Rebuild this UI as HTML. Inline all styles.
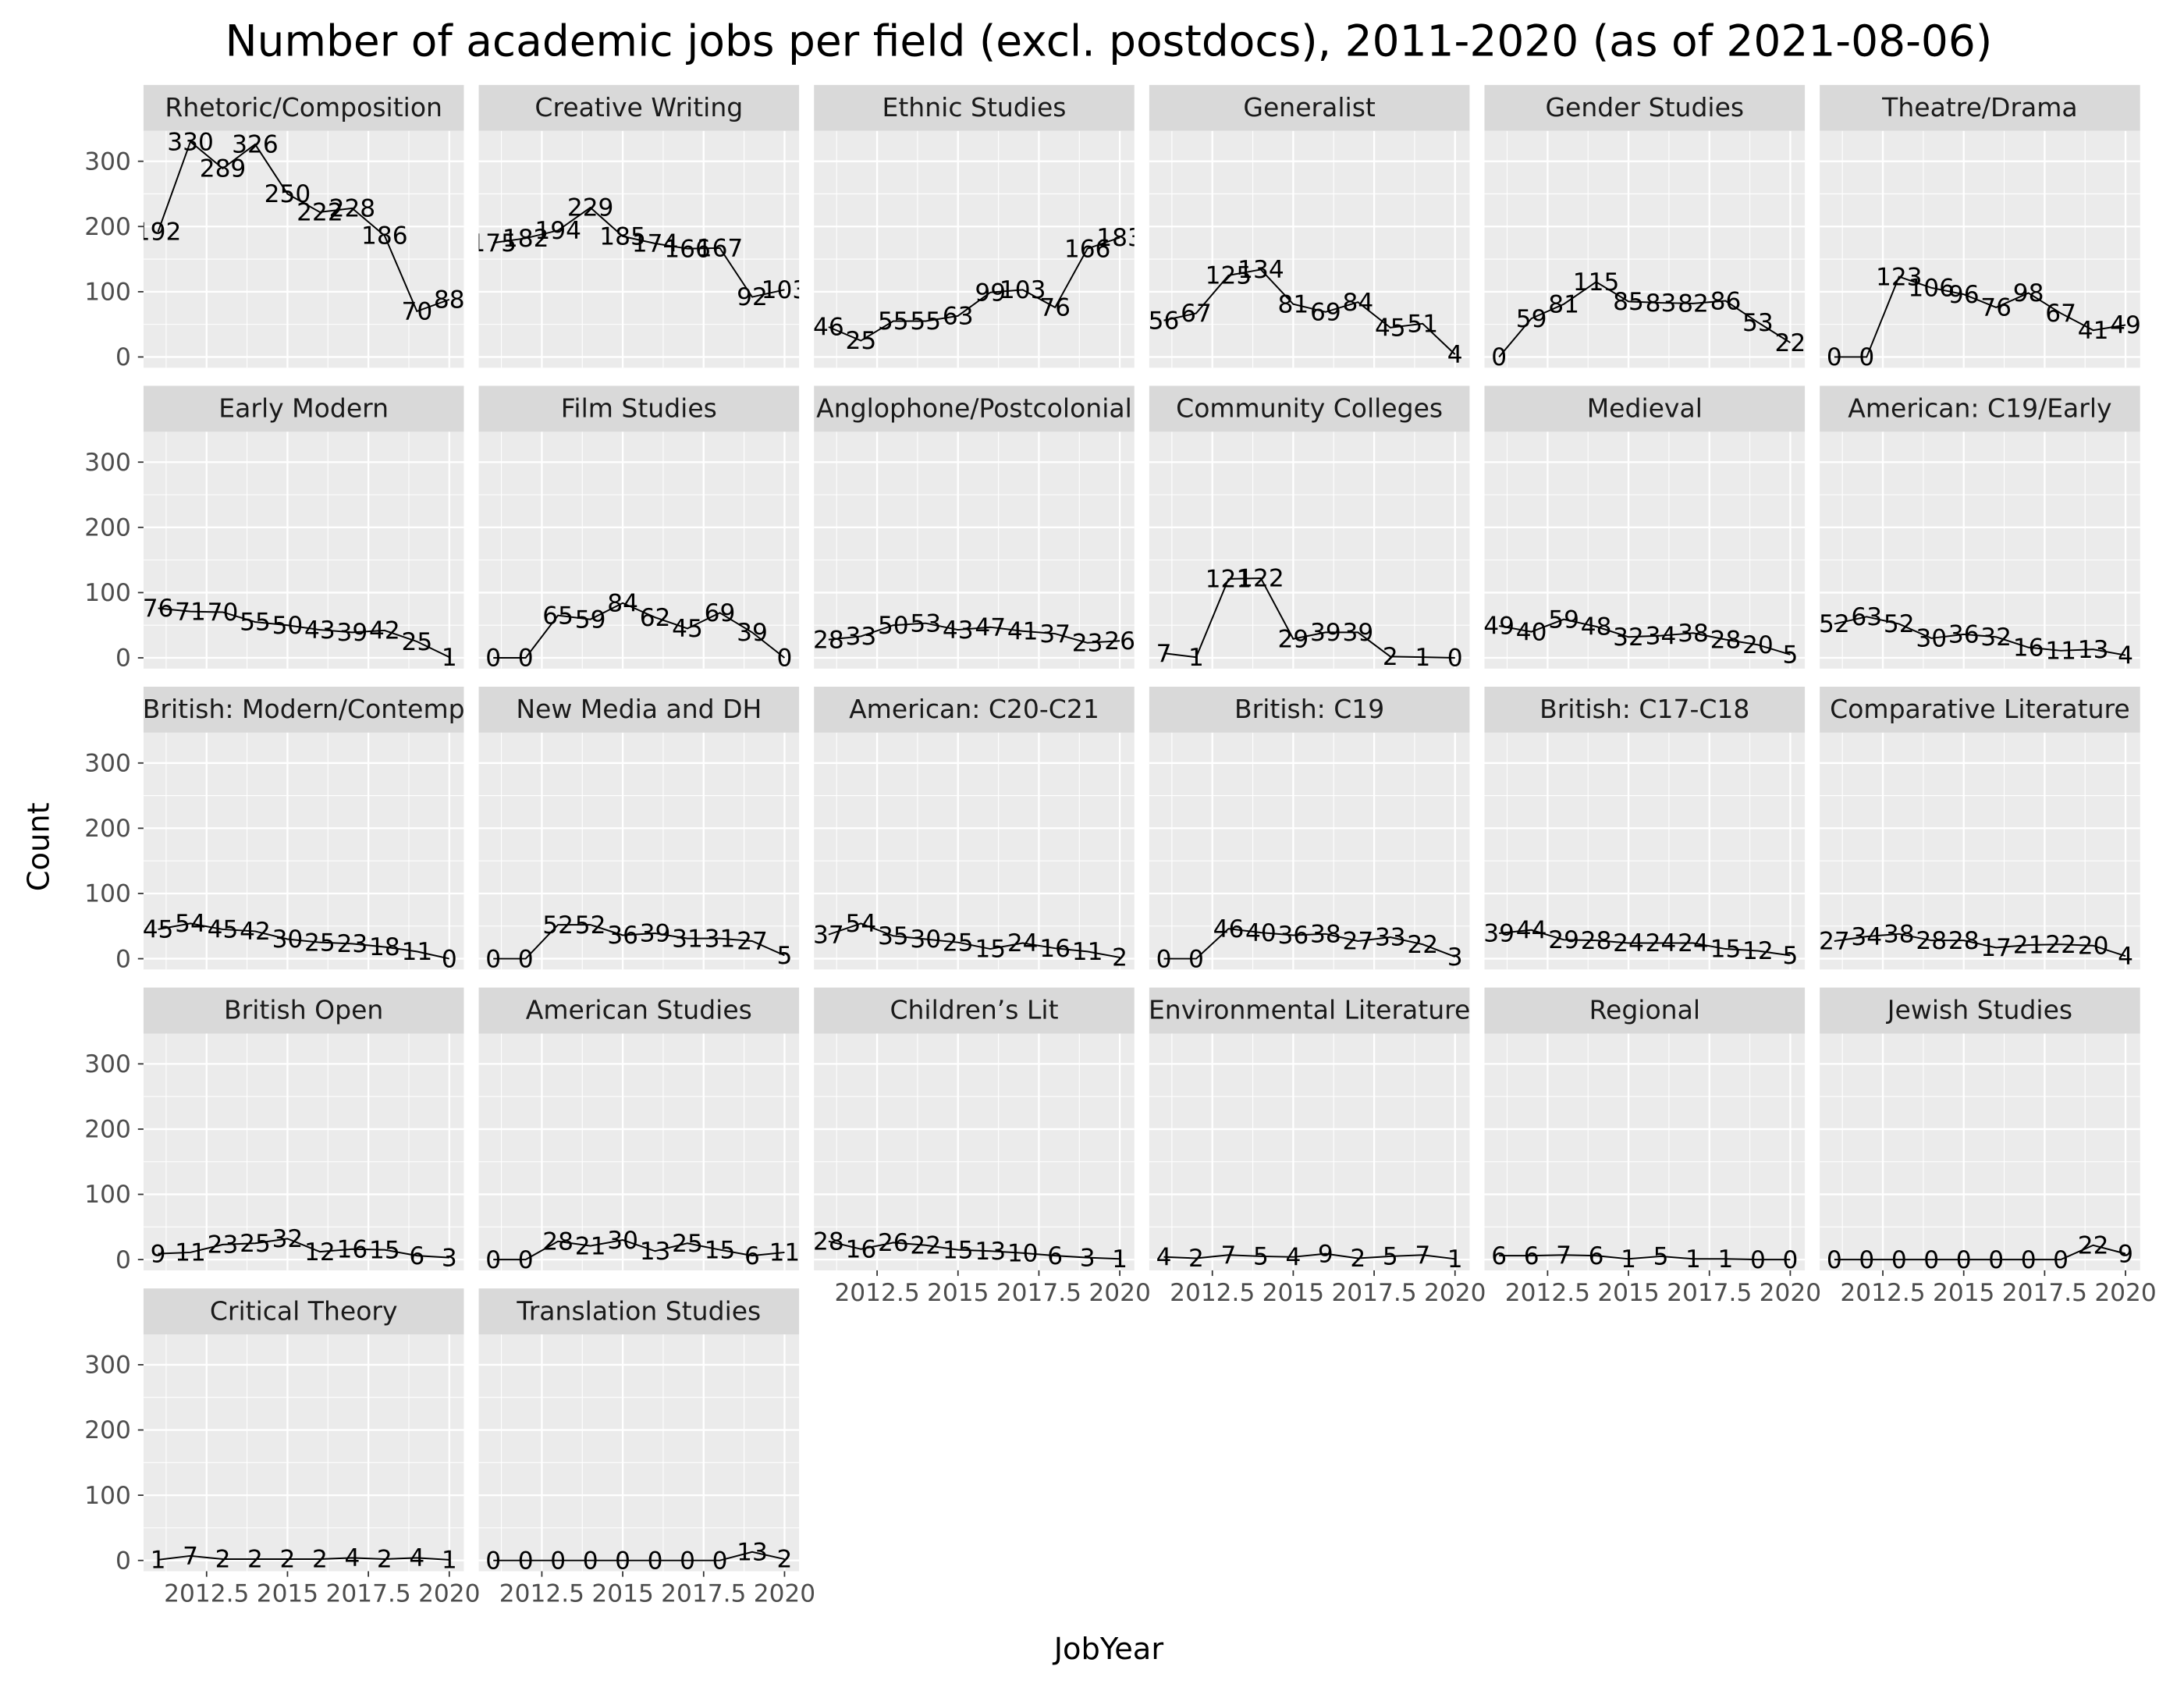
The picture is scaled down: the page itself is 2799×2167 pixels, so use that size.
<!DOCTYPE html>
<html><head><meta charset="utf-8"><style>
html,body{margin:0;padding:0;background:#fff;}
svg{display:block;font-family:"DejaVu Sans","Liberation Sans",sans-serif;}
</style></head><body>
<svg id="chart" width="2799" height="2167" viewBox="0 0 1568 1214" xmlns="http://www.w3.org/2000/svg">
<rect width="1568" height="1214" fill="#fff"/>
<text x="796" y="40" font-size="30.8" text-anchor="middle" fill="#000">Number of academic jobs per field (excl. postdocs), 2011-2020 (as of 2021-08-06)</text>
<text transform="translate(35,608) rotate(-90)" font-size="21.5" text-anchor="middle">Count</text>
<text x="796" y="1191" font-size="21.5" text-anchor="middle">JobYear</text>
<g id="panels"></g>
</svg>
<script>
const years = [2011,2012,2013,2014,2015,2016,2017,2018,2019,2020];
const fields = ["Rhetoric/Composition","Creative Writing","Ethnic Studies","Generalist","Gender Studies","Theatre/Drama","Early Modern","Film Studies","Anglophone/Postcolonial","Community Colleges","Medieval","American: C19/Early","British: Modern/Contemp","New Media and DH","American: C20-C21","British: C19","British: C17-C18","Comparative Literature","British Open","American Studies","Children\u2019s Lit","Environmental Literature","Regional","Jewish Studies","Critical Theory","Translation Studies"];
const counts = [
[192,330,289,326,250,222,228,186,70,88],
[175,182,194,229,185,174,166,167,92,103],
[46,25,55,55,63,99,103,76,166,183],
[56,67,125,134,81,69,84,45,51,4],
[0,59,81,115,85,83,82,86,53,22],
[0,0,123,106,96,76,98,67,41,49],
[76,71,70,55,50,43,39,42,25,1],
[0,0,65,59,84,62,45,69,39,0],
[28,33,50,53,43,47,41,37,23,26],
[7,1,121,122,29,39,39,2,1,0],
[49,40,59,48,32,34,38,28,20,5],
[52,63,52,30,36,32,16,11,13,4],
[45,54,45,42,30,25,23,18,11,0],
[0,0,52,52,36,39,31,31,27,5],
[37,54,35,30,25,15,24,16,11,2],
[0,0,46,40,36,38,27,33,22,3],
[39,44,29,28,24,24,24,15,12,5],
[27,34,38,28,28,17,21,22,20,4],
[9,11,23,25,32,12,16,15,6,3],
[0,0,28,21,30,13,25,15,6,11],
[28,16,26,22,15,13,10,6,3,1],
[4,2,7,5,4,9,2,5,7,1],
[6,6,7,6,1,5,1,1,0,0],
[0,0,0,0,0,0,0,0,22,9],
[1,7,2,2,2,2,4,2,4,1],
[0,0,0,0,0,0,0,0,13,2]
];
const yTicks = [0,100,200,300];
const yMinor = [50,150,250];
const xTicks = [2012.5,2015,2017.5,2020];
const xTickLabels = ["2012.5","2015","2017.5","2020"];
const xMinor = [2011.25,2013.75,2016.25,2018.75];

const NS="http://www.w3.org/2000/svg";
const root=document.getElementById('panels');
function mk(tag,attrs,parent){const e=document.createElementNS(NS,tag);for(const k in attrs)e.setAttribute(k,attrs[k]);(parent||root).appendChild(e);return e;}
const COLS=6, PX0=103, PW=230, PSTEP=240.7, STRIP0=61, SH=33, PH=170, RSTEP=216;
const allMax=Math.max(...counts.flat());
const yLo=-0.05*allMax, yHi=allMax*1.05;
const xLo=2011-0.45, xHi=2020+0.45;
const n=fields.length;
const stripLayer=mk('g',{});


fields.forEach((f,i)=>{
  const r=Math.floor(i/COLS), c=i%COLS;
  const x0=PX0+c*PSTEP, st=STRIP0+r*RSTEP, y0=st+SH;
  const X=v=>x0+(v-xLo)/(xHi-xLo)*PW;
  const Y=v=>y0+PH-(v-yLo)/(yHi-yLo)*PH;
  const g=mk('g',{});
  root.insertBefore(g,stripLayer);
  
  
  const cp=mk('clipPath',{id:'cp'+i},g);
  mk('rect',{x:x0,y:y0,width:PW,height:PH},cp);
  const strip=mk('rect',{x:x0,y:st,width:PW,height:SH,fill:'#d9d9d9'},g);
  
  
  const stt=mk('text',{x:x0+PW/2,y:st+22.5,'font-size':'18.5','text-anchor':'middle',fill:'#1a1a1a'},stripLayer);
  stt.textContent=f;
  
  
  mk('rect',{x:x0,y:y0,width:PW,height:PH,fill:'#ebebeb'},g);
  yMinor.forEach(v=>mk('line',{x1:x0,x2:x0+PW,y1:Y(v),y2:Y(v),stroke:'#fff','stroke-width':0.6},g));
  xMinor.forEach(v=>mk('line',{x1:X(v),x2:X(v),y1:y0,y2:y0+PH,stroke:'#fff','stroke-width':0.6},g));
  yTicks.forEach(v=>mk('line',{x1:x0,x2:x0+PW,y1:Y(v),y2:Y(v),stroke:'#fff','stroke-width':1.3},g));
  xTicks.forEach(v=>mk('line',{x1:X(v),x2:X(v),y1:y0,y2:y0+PH,stroke:'#fff','stroke-width':1.3},g));
  if(c===0){
    yTicks.forEach(v=>{
      mk('line',{x1:x0-4,x2:x0,y1:Y(v),y2:Y(v),stroke:'#333','stroke-width':1},g);
      const t=mk('text',{x:x0-9,y:Y(v)+6,'font-size':'17.5','text-anchor':'end',fill:'#4d4d4d'},g);
      t.textContent=v;
      
      
    });
  }
  if(i+COLS>=n){
    xTicks.forEach((v,k)=>{
      mk('line',{x1:X(v),x2:X(v),y1:y0+PH,y2:y0+PH+4,stroke:'#333','stroke-width':1},g);
      const t=mk('text',{x:X(v),y:y0+PH+22,'font-size':'17.5','text-anchor':'middle',fill:'#4d4d4d'},g);
      t.textContent=xTickLabels[k];
      
      
    });
  }
  const cg=mk('g',{'clip-path':'url(#cp'+i+')'},g);
  const d=counts[i].map((v,k)=>(k?'L':'M')+X(years[k]).toFixed(2)+','+Y(v).toFixed(2)).join(' ');
  const ln=mk('path',{d:d,fill:'none',stroke:'#000','stroke-width':1.1},cg);
  
  
  counts[i].forEach((v,k)=>{
    const t=mk('text',{x:X(years[k]),y:Y(v)+6,'font-size':'17.5','text-anchor':'middle',fill:'#000'},cg);
    t.textContent=v;
    
    
  });
});
</script>
</body></html>
